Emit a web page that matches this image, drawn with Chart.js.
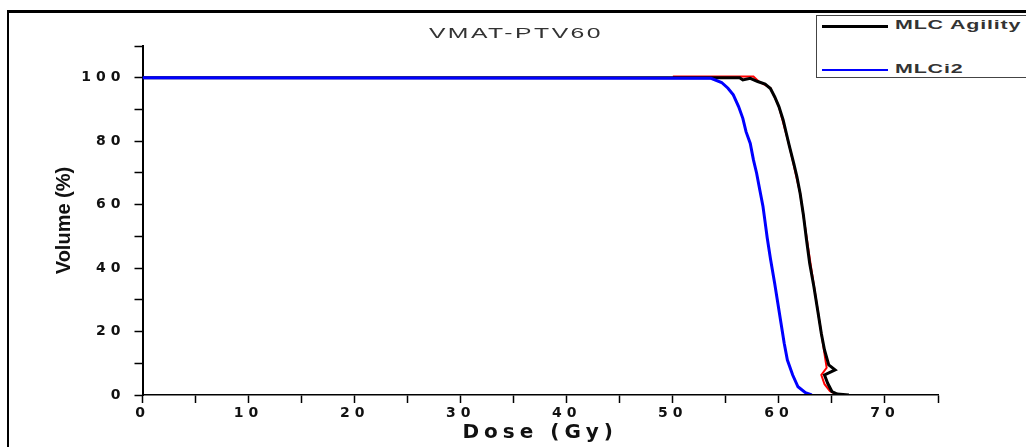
<!DOCTYPE html>
<html>
<head>
<meta charset="utf-8">
<script src="https://cdn.jsdelivr.net/npm/chart.js@4.4.1/dist/chart.umd.min.js"></script>
<style>
  body { margin: 0; background: #fff; overflow: hidden; }
  #wrap { position: relative; width: 1026px; height: 447px; overflow: hidden; font-family: "Liberation Sans", Arial, sans-serif; }
  #frame { position: absolute; left: 7px; top: 10px; width: 1100px; height: 500px; border-top: 3px solid #000; border-left: 2px solid #000; }
  #myChart { position: absolute; left: 0; top: 0; }
  #title { position: absolute; left: 316px; top: 24px; width: 400px; text-align: center; font-size: 15px; letter-spacing: 1.5px; color: #333; transform: scaleX(1.65); }
  #legend { position: absolute; left: 816px; top: 15px; width: 300px; height: 61px; border: 1.5px solid #444; background: #fff; }
  .leg-item { position: absolute; left: 0; height: 20px; }
  .leg-line { position: absolute; left: 5px; width: 66px; }
  .leg-text { position: absolute; left: 78px; top: 0; white-space: nowrap; font-size: 13px; font-weight: bold; letter-spacing: 0.5px; color: #333; transform: scaleX(1.65); transform-origin: left center; }
</style>
</head>
<body>
<div id="wrap">
  <div id="frame"></div>
  <canvas id="myChart" width="1026" height="447"></canvas>
  <div id="title">VMAT-PTV60</div>
  <div id="legend"></div>
</div>
<script>
// ---------- data ----------
const chartTitle = 'VMAT-PTV60';
const xTitle = 'Dose (Gy)';
const yTitle = 'Volume (%)';

// MLC Agility (black)
const agilityDose = [0, 56.3, 56.6, 57.3, 58.0, 58.7, 59.2, 59.6, 60.0, 60.4, 60.7, 61.0, 61.4, 61.7, 62.0, 62.3, 62.6, 62.9, 63.3, 63.7, 64.0, 64.3, 64.7, 65.3, 64.3, 64.6, 65.0, 65.5, 66.6];
const agilityVol  = [100, 100, 99.3, 99.8, 98.8, 98.0, 96.6, 94.0, 90.9, 86.7, 82.5, 78.3, 73.0, 68.8, 63.6, 57.0, 49.0, 41.5, 34.1, 25.8, 19.4, 14.2, 9.5, 7.9, 6.3, 3.7, 1.1, 0.3, 0];

// MLCi2 (blue)
const i2Dose = [0, 53.6, 54.6, 55.2, 55.7, 56.2, 56.6, 56.9, 57.3, 57.6, 57.9, 58.2, 58.5, 58.7, 58.9, 59.2, 59.6, 59.9, 60.2, 60.5, 60.8, 61.3, 61.8, 62.5, 63.1];
const i2Vol  = [100, 99.8, 98.5, 96.7, 94.6, 90.9, 87.2, 83.0, 79.3, 74.1, 69.9, 64.6, 59.4, 54.5, 49.5, 43.0, 35.2, 28.9, 22.6, 16.3, 11.0, 6.3, 2.6, 0.7, 0];

// red trace lying under the black one (not in the legend)
const refDose = [50, 57.6, 58.1, 59.2, 60.0, 61.0, 62.0, 63.0, 64.0, 64.5, 64.0, 64.3, 64.8, 65.4];
const refVol  = [100.4, 100.4, 98.8, 96.8, 90.9, 78.3, 63.6, 41.0, 19.4, 8.6, 6.3, 3.4, 1.3, 0.2];

const seriesNames  = ['MLC Agility', 'MLCi2'];
const seriesColors = ['#000000', '#0000ff'];

function toPoints(xs, ys) {
  var pts = [];
  for (var i = 0; i < xs.length; i++) {
    pts.push({ x: xs[i], y: ys[i] });
  }
  return pts;
}

// ---------- legend (html) ----------
document.getElementById('title').textContent = chartTitle;
var legend = document.getElementById('legend');
var legTops = [1, 45];
var legWidths = [3, 2.5];
seriesNames.forEach(function (name, i) {
  var item = document.createElement('div');
  item.className = 'leg-item';
  item.style.top = legTops[i] + 'px';
  var line = document.createElement('div');
  line.className = 'leg-line';
  line.style.top = (9 - legWidths[i] / 2) + 'px';
  line.style.height = legWidths[i] + 'px';
  line.style.background = seriesColors[i];
  var txt = document.createElement('div');
  txt.className = 'leg-text';
  txt.textContent = name;
  item.appendChild(line);
  item.appendChild(txt);
  legend.appendChild(item);
});

// the picture's text is stretched wide; letter spacing stands in for it
const spacingPlugin = {
  id: 'spacing',
  beforeDraw(chart) { chart.ctx.letterSpacing = '0px'; },
  afterDatasetsDraw(chart) { chart.ctx.letterSpacing = '5px'; }
};

Chart.defaults.font.family = '"Liberation Sans", Arial, sans-serif';
Chart.defaults.color = '#111';

const wideFont = '"DejaVu Sans", sans-serif';

var ctx = document.getElementById('myChart').getContext('2d');
var chart = new Chart(ctx, {
  type: 'line',
  data: {
    datasets: [
      { label: seriesNames[1], data: toPoints(i2Dose, i2Vol), borderColor: seriesColors[1], borderWidth: 3 },
      { label: seriesNames[0], data: toPoints(agilityDose, agilityVol), borderColor: seriesColors[0], borderWidth: 3 },
      { label: '', data: toPoints(refDose, refVol), borderColor: '#ff0000', borderWidth: 2 }
    ]
  },
  plugins: [spacingPlugin],
  options: {
    responsive: false,
    animation: false,
    events: [],
    layout: { padding: { left: 0, top: 46, right: 88, bottom: 0 } },
    elements: { point: { radius: 0 }, line: { tension: 0 } },
    plugins: { legend: { display: false }, tooltip: { enabled: false }, title: { display: false } },
    scales: {
      x: {
        type: 'linear',
        min: 0, max: 75,
        afterFit: function (s) { s.height = 52; },
        border: { color: '#000', width: 1.5, z: 1 },
        grid: { drawOnChartArea: false, tickLength: 8, tickColor: '#000', tickWidth: 1.5, z: 1 },
        ticks: {
          stepSize: 5, autoSkip: false, maxRotation: 0, padding: 2, z: 1,
          font: { family: wideFont, size: 14, weight: 'bold' },
          callback: function (v) { return v % 10 === 0 ? v : ''; }
        },
        title: { display: true, text: xTitle, font: { family: wideFont, size: 20, weight: 'bold' }, padding: { top: 0, bottom: 2 } }
      },
      y: {
        min: 0, max: 110,
        afterFit: function (s) { s.width = 142.5; },
        border: { color: '#000', width: 2 },
        grid: { drawOnChartArea: false, tickLength: 8, tickColor: '#000', tickWidth: 1.5 },
        ticks: {
          stepSize: 10, autoSkip: false, padding: 9, z: 1,
          font: { family: wideFont, size: 14, weight: 'bold' },
          callback: function (v) { return v % 20 === 0 ? v : ''; }
        },
        title: { display: true, text: yTitle, font: { size: 20, weight: 'bold' }, padding: { top: 52, bottom: 0 } }
      }
    }
  }
});
</script>
</body>
</html>
